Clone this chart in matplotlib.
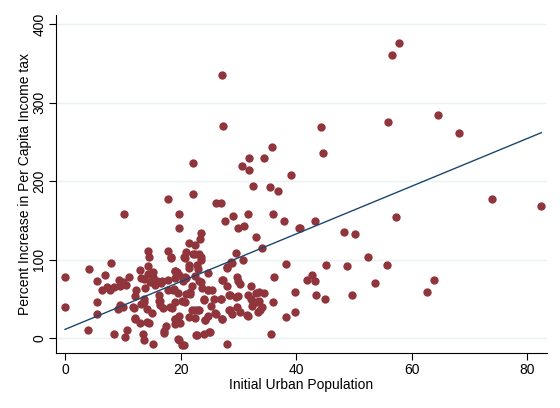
import matplotlib
matplotlib.use("Agg")
import matplotlib.pyplot as plt
import numpy as np

# Initial urban population (x) and percent increase in per-capita income tax (y)
urban_pop = [
    # x > 40 region
    57.8, 56.6, 64.6, 55.9, 68.1, 44.2, 44.7, 73.9, 82.4, 57.3, 43.3, 40.7, 48.2, 50.2,
    52.5, 45.2, 48.8, 55.7, 42.8, 41.9, 43.3, 53.6, 63.9, 43.4, 44.9, 49.7, 62.7,
    # upper middle
    27.2, 27.4, 35.8, 22.1, 31.9, 34.4, 30.7, 31.8, 39.1, 32.6, 35.4, 36.9,
    # 19-40 region
    22.2, 26.1, 27.0, 19.8, 36.0, 31.6, 29.0, 27.7, 37.8, 31.0, 30.0, 40.4, 19.8, 23.6,
    23.4, 33.0, 21.5, 34.0, 29.6, 21.0, 22.4, 23.5, 20.8, 23.6, 30.8, 28.9, 38.3, 28.0,
    21.4, 19.1, 23.0, 24.7, 19.8, 22.4, 36.2, 21.0, 19.1, 29.8, 20.4, 27.4, 30.0, 23.5,
    22.0, 24.7, 23.7, 25.4, 28.1, 32.1, 33.0, 34.4, 39.7, 19.6, 21.0, 21.7, 28.4, 30.0,
    24.1, 25.7, 26.9, 29.5, 32.1, 32.5, 33.5, 36.0, 19.1, 20.2, 25.3, 22.0, 22.5, 23.1,
    28.5, 29.8, 32.3, 34.0, 33.3, 19.8, 21.5, 22.4, 24.8, 26.1, 27.2, 28.9, 30.2, 31.7,
    38.3, 39.7, 19.1, 24.3, 19.1, 22.7, 24.1, 25.0, 19.5, 20.6, 28.0, 35.6,
    22.5, 28.8, 28.0, 27.2, 30.3, 33.5, 23.2, 24.8, 28.5, 31.7, 33.2, 27.0, 24.0, 23.0,
    26.0, 28.3, 31.4, 33.7, 27.1, 24.2, 22.8, 24.9,
    # 0-20 region
    17.8, 10.2, 14.4, 14.6, 17.9, 18.4, 20.6, 8.0, 4.2, 13.0, 0.0, 7.0, 5.5, 9.3, 11.0,
    10.1, 13.2, 14.3, 15.2, 15.9, 17.8, 19.1, 7.3, 8.4, 9.5, 10.6, 6.4, 7.8, 13.8, 15.6,
    16.6, 17.8, 18.8, 16.3, 16.2, 12.1, 13.7, 0.0, 5.6, 9.5, 9.1, 10.1, 11.9, 13.1, 16.5,
    17.0, 18.5, 5.5, 12.1, 13.0, 14.6, 15.0, 19.9, 17.5, 17.2, 3.9, 8.4, 10.7, 10.3, 13.5,
    13.7, 15.2, 19.8, 20.3,
    22.2, 23.2, 18.3, 14.4, 15.3, 13.7, 14.7, 16.7, 19.3, 21.5, 22.8, 20.8, 12.3, 18.6,
    20.8, 21.6, 13.6, 16.4, 18.2, 11.8, 14.1, 12.1, 14.1, 17.1, 19.0,
]
tax_increase = [
    376, 361, 284, 276, 262, 269, 236, 178, 169, 154, 149, 141, 136, 133,
    103, 94, 92, 93, 81, 74, 73, 70, 74, 55, 50, 55, 59,
    335, 270, 244, 223, 230, 230, 219, 214, 208, 194, 193, 188,
    184, 173, 173, 159, 159, 159, 156, 150, 150, 143, 140.5, 140.5, 140, 134,
    126.5, 128.6, 121.4, 114.6, 108.7, 109.5, 107.5, 104, 102.4, 100, 99.8, 96.4, 94.3, 89.7,
    89.7, 86.3, 88.4, 82.9, 80.8, 80, 78.3, 76.5, 77, 77.8, 73.6, 74.5, 72.7, 72,
    67.3, 61.8, 64.3, 61.8, 66.9, 66.9, 57.5, 58, 59.6, 57.5, 56.7, 58.8, 54.6, 53.3,
    50.4, 49.9, 49.9, 52.4, 50.4, 46.1, 48.2, 45.7, 46.1, 48.2, 40.6, 36.4, 35.5, 36.4,
    36.4, 39.7, 40.6, 39.7, 33.9, 28.3, 27, 26.2, 28.8, 30.5, 25, 31.3, 33.4, 27.9,
    27, 33, 25, 22.8, 18.6, 4.7, 5.5, 8, -1.3, -8, -7.6, 5.5,
    118.5, 97, 90.8, 74.5, 69.7, 58.8, 73.6, 61, 54.6, 54.6, 46, 50.4, 49, 36.4,
    32.2, 35.7, 29.3, 36.4, 25, 22.8, 4.2, 8,
    178, 159, 111.3, 103.7, 111.3, 101.9, 103.7, 95.6, 88.5, 87.2, 77.8, 80.4, 73.6, 74.9, 78.7,
    71.4, 76.5, 82, 77.8, 73.6, 74.9, 85.4, 66, 66, 67.3, 68.5, 61, 61, 64.3, 68,
    70.7, 61, 63, 54.6, 48.2, 53.3, 50.4, 39.7, 45.7, 43.1, 37.6, 39.7, 38.5, 44, 41.9,
    38.1, 38.5, 30.5, 26.3, 19.5, 19.5, 32.6, 19.5, 15.6, 6.7, 10.2, 5.9, 11, 1.7, 5.1,
    -2.5, -7.2, -1.7, -8.9,
    108, 107, 103, 92, 84.5, 76, 71.7, 73.6, 84.5, 94, 93, 78, 62, 62,
    46, 57, 46, 48, 40, 40, 37.6, 25, 20.7, 9.7, 25,
]

# Fitted line
fit_x = [0.0, 82.4]
fit_y = [11.4, 262.0]

x_ticks = [0, 20, 40, 60, 80]
y_ticks = [0, 100, 200, 300, 400]

plt.rcParams['font.family'] = ['Liberation Sans', 'DejaVu Sans']

fig = plt.figure(figsize=(5.6, 4.08), dpi=100)
ax = fig.add_axes([0.1, 0.134, 0.877, 0.829])

ax.scatter(urban_pop, tax_increase, s=36, color='#90353B', linewidths=0, zorder=3)
ax.plot(fit_x, fit_y, color='#1A476F', linewidth=1.0, zorder=4)

ax.set_xlim(-1.56, 83.4)
ax.set_ylim(-19.1, 411.8)
ax.set_xticks(x_ticks)
ax.set_yticks(y_ticks)
ax.set_yticklabels([str(v) for v in y_ticks], rotation=90, va='center')
ax.tick_params(axis='both', direction='out', length=5, width=0.8, labelsize=10,
               colors='black')
ax.tick_params(axis='y', pad=2)
ax.tick_params(axis='x', pad=2)
ax.grid(axis='y', color='#EAF2F3', linewidth=1.0, zorder=0)
ax.set_axisbelow(True)
for side in ['top', 'right']:
    ax.spines[side].set_visible(False)
for side in ['left', 'bottom']:
    ax.spines[side].set_linewidth(0.8)
    ax.spines[side].set_color('black')

ax.set_xlabel('Initial Urban Population', fontsize=10, labelpad=1)
ax.set_ylabel('Percent Increase in Per Capita Income tax', fontsize=10, labelpad=0)

fig.savefig('out.png', dpi=100, facecolor='white')
